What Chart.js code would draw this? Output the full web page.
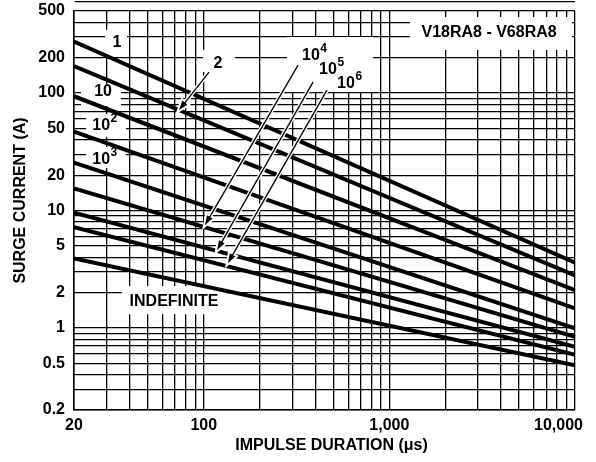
<!DOCTYPE html>
<html>
<head>
<meta charset="utf-8">
<script src="https://cdn.jsdelivr.net/npm/chart.js@4.4.1/dist/chart.umd.min.js"></script>
<style>
  html, body { margin: 0; padding: 0; background: #fff; }
  canvas { display: block; }
</style>
</head>
<body>
<canvas id="surgeChart" width="596" height="462"></canvas>
<script>
// impulse duration (us) at both ends of every rating line
const durations = [20, 10000];

// surge current (A) per number of pulses, read at 20us and 10,000us
const pulses1 = [274, 3.6];
const pulses2 = [170, 2.8];
const pulses10 = [94, 2.1];
const pulses1e2 = [47, 1.47];
const pulses1e3 = [25.5, 0.99];
const pulses1e4 = [15.4, 0.84];
const pulses1e5 = [9.6, 0.69];
const pulses1e6 = [7.2, 0.59];
const pulsesIndef = [3.9, 0.48];

const seriesNames = ["1", "2", "10", "10^2", "10^3", "10^4", "10^5", "10^6", "INDEFINITE"];
const seriesValues = [pulses1, pulses2, pulses10, pulses1e2, pulses1e3, pulses1e4, pulses1e5, pulses1e6, pulsesIndef];

// axis labels
const xTickLabels = [20, 100, 1000, 10000];
const yTickLabels = [500, 200, 100, 50, 20, 10, 5, 2, 1, 0.5, 0.2];
const xTitle = "IMPULSE DURATION (\u03BCs)";
const yTitle = "SURGE CURRENT (A)";

// log grid lines (1..9 of each decade inside the range)
const xGrid = [];
[10, 100, 1000].forEach(d => { for (let k = 1; k < 10; k++) if (k * d >= 20) xGrid.push(k * d); });
xGrid.push(10000);
const yGrid = [];
[0.1, 1, 10, 100].forEach(d => { for (let k = 1; k < 10; k++) if (k * d >= 0.2 - 1e-9) yGrid.push(+(k * d).toFixed(2)); });
[100, 200, 300, 400, 500].forEach(v => { if (!yGrid.includes(v)) yGrid.push(v); });

// white boxes behind the curve labels, corners in data units [x1, y1, x2, y2]
const labelBoxes = [
  [29.4, 345, 38.6, 215],     // 1
  [99.1, 233, 147.4, 151],    // 2
  [21.8, 119.5, 35.8, 77.6],  // 10
  [23.2, 66.3, 38.1, 42.2],   // 10^2
  [23.2, 34.7, 38.1, 23.0],   // 10^3
  [281, 300, 817, 102],       // 10^4 .. 10^6
  [1292, 444, 9643, 233],     // part number
  [36.3, 2.27, 131.8, 1.31]   // INDEFINITE
];

// curve labels: text, exponent, position in data units
const curveLabels = [
  ["1", "", 34.1, 267],
  ["2", "", 119.4, 180],
  ["10", "", 28.7, 102],
  ["10", "2", 28.0, 52.4],
  ["10", "3", 28.0, 26.9],
  ["10", "4", 378, 207],
  ["10", "5", 467, 157],
  ["10", "6", 584, 119.5],
  ["V18RA8 - V68RA8", "", 3444, 325],
  ["INDEFINITE", "", 69.2, 1.69]
];

// pointer arrows: from [x, y] to [x, y] in data units
const arrows = [
  [106.8, 151, 73.6, 71.7],
  [322, 173, 101.6, 7.52],
  [388, 124, 118, 4.6],
  [461, 106, 135, 3.57]
];

const fontBold = size => "bold " + size + "px \"Liberation Sans\", Arial, sans-serif";

function drawArrow(ctx, x1, y1, x2, y2) {
  const ang = Math.atan2(y2 - y1, x2 - x1);
  const len = 10, spread = 0.33;
  const ax = x2 - len * Math.cos(ang - spread), ay = y2 - len * Math.sin(ang - spread);
  const bx = x2 - len * Math.cos(ang + spread), by = y2 - len * Math.sin(ang + spread);
  const path = () => {
    ctx.beginPath();
    ctx.moveTo(x1, y1);
    ctx.lineTo(x2 - 6 * Math.cos(ang), y2 - 6 * Math.sin(ang));
  };
  const head = () => {
    ctx.beginPath();
    ctx.moveTo(x2, y2);
    ctx.lineTo(ax, ay);
    ctx.lineTo(bx, by);
    ctx.closePath();
  };
  ctx.strokeStyle = "#fff";
  ctx.lineWidth = 4;
  path(); ctx.stroke();
  head(); ctx.stroke();
  ctx.strokeStyle = "#000";
  ctx.fillStyle = "#000";
  ctx.lineWidth = 1.3;
  path(); ctx.stroke();
  head(); ctx.fill();
}

const annotations = {
  id: "annotations",
  beforeDraw(chart) {
    const ctx = chart.ctx;
    ctx.save();
    ctx.fillStyle = "#fff";
    ctx.fillRect(0, 0, chart.width, chart.height);
    ctx.restore();
  },
  beforeDatasetsDraw(chart) {
    const { ctx, scales: { x, y } } = chart;
    ctx.save();
    ctx.fillStyle = "#fff";
    labelBoxes.forEach(b => {
      const x1 = x.getPixelForValue(b[0]), y1 = y.getPixelForValue(b[1]);
      const x2 = x.getPixelForValue(b[2]), y2 = y.getPixelForValue(b[3]);
      ctx.fillRect(x1, y1, x2 - x1, y2 - y1);
    });
    ctx.restore();
  },
  afterDatasetsDraw(chart) {
    const { ctx, scales: { x, y } } = chart;
    ctx.save();
    ctx.fillStyle = "#000";
    ctx.textBaseline = "middle";
    curveLabels.forEach(([base, exp, xv, yv]) => {
      const px = x.getPixelForValue(xv), py = y.getPixelForValue(yv);
      ctx.font = fontBold(16);
      const w = ctx.measureText(base).width;
      ctx.textAlign = "left";
      ctx.fillText(base, px - w / 2, py);
      if (exp) {
        ctx.font = fontBold(12);
        ctx.fillText(exp, px + w / 2 + 0.5, py - 7);
      }
    });
    arrows.forEach(a => drawArrow(ctx,
      x.getPixelForValue(a[0]), y.getPixelForValue(a[1]),
      x.getPixelForValue(a[2]), y.getPixelForValue(a[3])));
    ctx.restore();
  },
  afterDraw(chart) {
    const { ctx, chartArea: a, scales: { x, y } } = chart;
    ctx.save();
    ctx.fillStyle = "#000";
    ctx.font = fontBold(16);
    ctx.textBaseline = "middle";
    ctx.textAlign = "right";
    yTickLabels.forEach(v => ctx.fillText(String(v), a.left - 9, y.getPixelForValue(v)));
    xTickLabels.forEach((v, i) => {
      const last = i === xTickLabels.length - 1;
      ctx.textAlign = last ? "right" : "center";
      ctx.fillText(v.toLocaleString("en-US"), x.getPixelForValue(v) + (last ? 8 : 0), a.bottom + 16);
    });
    ctx.textAlign = "center";
    ctx.fillText(xTitle, (a.left + a.right) / 2 + 7, a.bottom + 36);
    ctx.translate(21, (a.top + a.bottom) / 2 - 10);
    ctx.rotate(-Math.PI / 2);
    ctx.fillText(yTitle, 0, 0);
    ctx.restore();
  }
};

const ctx = document.getElementById("surgeChart").getContext("2d");
new Chart(ctx, {
  type: "line",
  data: {
    datasets: seriesValues.map((vals, i) => ({
      label: seriesNames[i],
      data: durations.map((d, j) => ({ x: d, y: vals[j] })),
      borderColor: "#000",
      borderWidth: 4,
      pointRadius: 0,
      tension: 0,
      fill: false
    }))
  },
  options: {
    responsive: false,
    animation: false,
    layout: { padding: { left: 74, right: 21, top: 11, bottom: 52 } },
    plugins: { legend: { display: false }, tooltip: { enabled: false } },
    scales: {
      x: {
        type: "logarithmic",
        min: 20,
        max: 10000,
        afterBuildTicks: scale => { scale.ticks = xGrid.map(v => ({ value: v })); },
        ticks: { display: false, callback: () => "" },
        grid: { color: "#000", lineWidth: 1.3, drawTicks: false },
        border: { display: true, color: "#000", width: 1.5 }
      },
      y: {
        type: "logarithmic",
        min: 0.2,
        max: 500,
        afterBuildTicks: scale => { scale.ticks = yGrid.map(v => ({ value: v })); },
        ticks: { display: false, callback: () => "" },
        grid: { color: "#000", lineWidth: 1.3, drawTicks: false },
        border: { display: true, color: "#000", width: 1.5 }
      }
    }
  },
  plugins: [annotations]
});
</script>
</body>
</html>
